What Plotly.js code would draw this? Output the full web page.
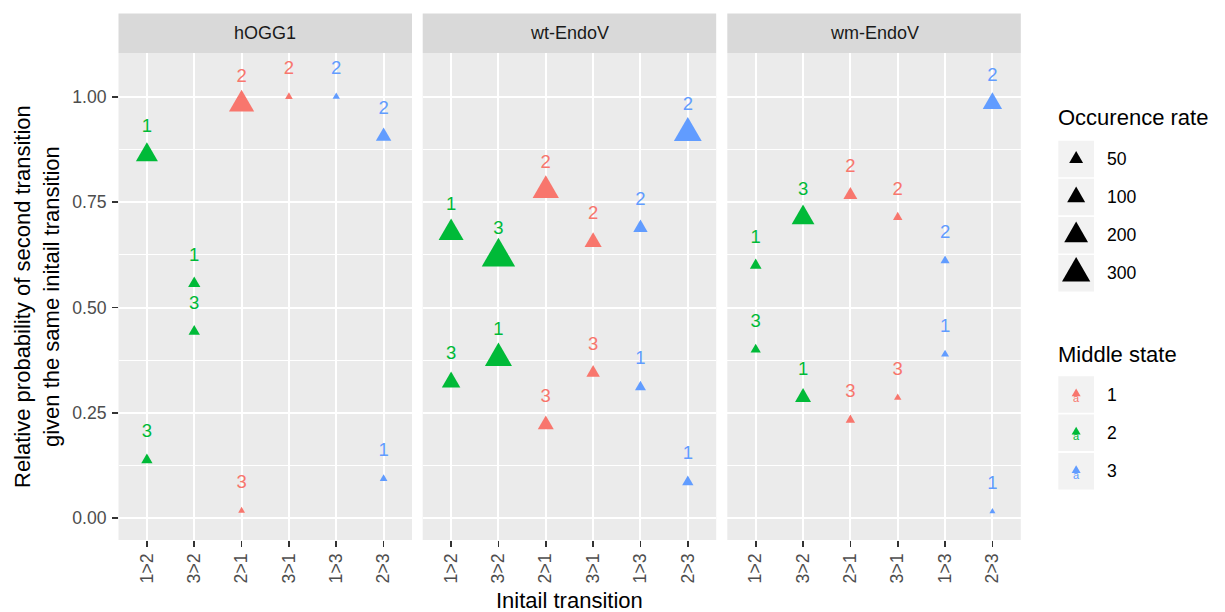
<!DOCTYPE html>
<html><head><meta charset="utf-8">
<script src="https://cdn.plot.ly/plotly-3.0.1.min.js"></script>
<style>html,body{margin:0;padding:0;background:#fff}#chart{width:1225px;height:612px}</style>
</head><body><div id="chart"></div>
<script>
// ---------------- data ----------------
const categories = ['1>2', '3>2', '2>1', '3>1', '1>3', '2>3'];
const facets = ['hOGG1', 'wt-EndoV', 'wm-EndoV'];
const middleStates = ['1', '2', '3'];
const sizeBreaks = [50, 100, 200, 300];

// hOGG1
const hogg1Init  = ['1>2', '1>2', '3>2', '3>2', '2>1', '2>1', '3>1', '1>3', '2>3', '2>3'];
const hogg1Final = ['1', '3', '1', '3', '2', '3', '2', '2', '2', '1'];
const hogg1Prob  = [0.862, 0.138, 0.557, 0.443, 0.982, 0.018, 1.0, 1.0, 0.906, 0.094];
const hogg1Occ   = [165, 27, 35, 28, 230, 4, 7, 6, 67, 7];

// wt-EndoV
const wtInit  = ['1>2', '1>2', '3>2', '3>2', '2>1', '2>1', '3>1', '3>1', '1>3', '1>3', '2>3', '2>3'];
const wtFinal = ['1', '3', '3', '1', '2', '3', '2', '3', '2', '1', '2', '1'];
const wtProb  = [0.677, 0.323, 0.62, 0.38, 0.778, 0.222, 0.655, 0.345, 0.689, 0.311, 0.914, 0.086];
const wtOcc   = [225, 107, 440, 270, 254, 73, 88, 46, 55, 25, 290, 27];

// wm-EndoV
const wmInit  = ['1>2', '1>2', '3>2', '3>2', '2>1', '2>1', '3>1', '3>1', '1>3', '1>3', '2>3', '2>3'];
const wmFinal = ['1', '3', '3', '1', '2', '3', '2', '3', '2', '1', '2', '1'];
const wmProb  = [0.60, 0.40, 0.713, 0.287, 0.767, 0.233, 0.714, 0.286, 0.611, 0.389, 0.984, 0.016];
const wmOcc   = [30, 20, 180, 73, 50, 15, 15, 6, 13, 8, 120, 2];

// ---------------- style ----------------
const W = 1225, H = 612;
const stateColors = ['#F8766D', '#00BA38', '#619CFF'];
const FONT = 'Liberation Sans, Arial, sans-serif';
const labelNudge = 0.065;
function markerSize(n) { return (4 + 1.4 * Math.sqrt(n)) / 1.155; }
function X(p) { return p / W; }
function Y(p) { return 1 - p / H; }

const panelLeft = [118.5, 422.7, 727.3];
const panelWidth = 293.5;
const panelTop = 53, panelBottom = 540, stripTop = 13.5;
const yRange = [-0.0515, 1.1037];

const facetData = [
  {init: hogg1Init, fin: hogg1Final, prob: hogg1Prob, occ: hogg1Occ},
  {init: wtInit, fin: wtFinal, prob: wtProb, occ: wtOcc},
  {init: wmInit, fin: wmFinal, prob: wmProb, occ: wmOcc}
];

const traces = [];
facetData.forEach((d, i) => {
  const xa = i === 0 ? 'x' : 'x' + (i + 1);
  const ya = i === 0 ? 'y' : 'y' + (i + 1);
  const cols = d.init.map(t => stateColors[middleStates.indexOf(t.split('>')[1])]);
  traces.push({
    type: 'scatter', mode: 'markers', xaxis: xa, yaxis: ya,
    x: d.init, y: d.prob, cliponaxis: false, showlegend: false, hoverinfo: 'skip',
    marker: {symbol: 'triangle-up', size: d.occ.map(markerSize), color: cols, opacity: 1, line: {width: 0}}
  });
  traces.push({
    type: 'scatter', mode: 'text', xaxis: xa, yaxis: ya,
    x: d.init, y: d.prob.map(v => v + labelNudge), text: d.fin,
    textposition: 'middle center', cliponaxis: false, showlegend: false, hoverinfo: 'skip',
    textfont: {family: FONT, size: 18.5, color: cols}
  });
});

// ---------------- custom legends ----------------
const keyX0 = 1058.3, keyX1 = 1094, keyH = 36.5;
const keyCX = (keyX0 + keyX1) / 2;
const sizeKeyY = [159, 197, 235.3, 273.3];
const stateKeyY = [394.5, 432.8, 471.2];

traces.push({
  type: 'scatter', mode: 'markers', xaxis: 'x4', yaxis: 'y4', cliponaxis: false,
  x: sizeBreaks.map(() => keyCX), y: sizeKeyY, showlegend: false, hoverinfo: 'skip',
  marker: {symbol: 'triangle-up', size: sizeBreaks.map(markerSize), color: '#000000', opacity: 1, line: {width: 0}}
});
traces.push({
  type: 'scatter', mode: 'markers', xaxis: 'x4', yaxis: 'y4', cliponaxis: false,
  x: middleStates.map(() => keyCX), y: stateKeyY.map(v => v - 0.8), showlegend: false, hoverinfo: 'skip',
  marker: {symbol: 'triangle-up', size: 7.8, color: stateColors, opacity: 1, line: {width: 0}}
});

const shapes = [];
const annotations = [];
const layout = {
  width: W, height: H,
  margin: {l: 0, r: 0, t: 0, b: 0, pad: 0},
  paper_bgcolor: '#FFFFFF', plot_bgcolor: 'rgba(0,0,0,0)',
  font: {family: FONT, color: '#000000'},
  showlegend: false, shapes: shapes, annotations: annotations
};

for (let i = 0; i < 3; i++) {
  const l = panelLeft[i], r = l + panelWidth;
  const sx = i === 0 ? '' : String(i + 1);
  layout['xaxis' + sx] = {
    domain: [X(l), X(r)], anchor: 'y' + sx, type: 'category',
    categoryorder: 'array', categoryarray: categories, range: [-0.6, 5.6],
    showgrid: true, gridcolor: '#FFFFFF', gridwidth: 2, zeroline: false, showline: false,
    ticks: 'outside', ticklen: 5.5, tickwidth: 1.6, tickcolor: '#333333',
    tickangle: -90, tickfont: {family: FONT, size: 17.6, color: '#4D4D4D'}, fixedrange: true
  };
  layout['yaxis' + sx] = {
    domain: [Y(panelBottom), Y(panelTop)], anchor: 'x' + sx, range: yRange,
    tickmode: 'array', tickvals: [0, 0.25, 0.5, 0.75, 1],
    ticktext: ['0.00', '0.25', '0.50', '0.75', '1.00'],
    showgrid: true, gridcolor: '#FFFFFF', gridwidth: 2, zeroline: false, showline: false,
    minor: {tickmode: 'array', tickvals: [0.125, 0.375, 0.625, 0.875], showgrid: true, gridcolor: '#FFFFFF', gridwidth: 1.1, ticks: ''},
    ticks: i === 0 ? 'outside' : '', ticklen: 5.5, tickwidth: 1.6, tickcolor: '#333333',
    showticklabels: i === 0, ticklabelstandoff: 2,
    tickfont: {family: FONT, size: 17.6, color: '#4D4D4D'}, fixedrange: true
  };
  shapes.push({type: 'rect', xref: 'paper', yref: 'paper', layer: 'below',
    x0: X(l), x1: X(r), y0: Y(panelBottom), y1: Y(panelTop), fillcolor: '#EBEBEB', line: {width: 0}});
  shapes.push({type: 'rect', xref: 'paper', yref: 'paper', layer: 'below',
    x0: X(l), x1: X(r), y0: Y(panelTop), y1: Y(stripTop), fillcolor: '#D9D9D9', line: {width: 0}});
  annotations.push({xref: 'paper', yref: 'paper', x: X((l + r) / 2), y: Y((panelTop + stripTop) / 2),
    xanchor: 'center', yanchor: 'middle', showarrow: false, text: facets[i],
    font: {family: FONT, size: 18, color: '#1A1A1A'}});
}
layout.xaxis4 = {domain: [0, 1], range: [0, W], visible: false, anchor: 'y4', fixedrange: true};
layout.yaxis4 = {domain: [0, 1], range: [H, 0], visible: false, anchor: 'x4', fixedrange: true};

annotations.push({xref: 'paper', yref: 'paper', x: X((panelLeft[0] + panelLeft[2] + panelWidth) / 2), y: Y(600.5),
  xanchor: 'center', yanchor: 'middle', showarrow: false, text: 'Initail transition',
  font: {family: FONT, size: 22, color: '#000000'}});
annotations.push({xref: 'paper', yref: 'paper', x: X(36.5), y: Y((panelTop + panelBottom) / 2),
  xanchor: 'center', yanchor: 'middle', showarrow: false, textangle: -90,
  text: 'Relative probability of second transition<br>given the same initail transition',
  font: {family: FONT, size: 22, color: '#000000'}});

annotations.push({xref: 'paper', yref: 'paper', x: X(1055.5), y: Y(118), xanchor: 'left', yanchor: 'middle',
  showarrow: false, text: 'Occurence rate', font: {family: FONT, size: 22, color: '#000000'}});
annotations.push({xref: 'paper', yref: 'paper', x: X(1055.5), y: Y(354), xanchor: 'left', yanchor: 'middle',
  showarrow: false, text: 'Middle state', font: {family: FONT, size: 22, color: '#000000'}});

sizeBreaks.forEach((b, k) => {
  shapes.push({type: 'rect', xref: 'paper', yref: 'paper', layer: 'below',
    x0: X(keyX0), x1: X(keyX1), y0: Y(sizeKeyY[k] + keyH / 2), y1: Y(sizeKeyY[k] - keyH / 2),
    fillcolor: '#F2F2F2', line: {width: 0}});
  annotations.push({xref: 'paper', yref: 'paper', x: X(1105), y: Y(sizeKeyY[k]), xanchor: 'left', yanchor: 'middle',
    showarrow: false, text: String(b), font: {family: FONT, size: 17.6, color: '#000000'}});
});
middleStates.forEach((s, k) => {
  shapes.push({type: 'rect', xref: 'paper', yref: 'paper', layer: 'below',
    x0: X(keyX0), x1: X(keyX1), y0: Y(stateKeyY[k] + keyH / 2), y1: Y(stateKeyY[k] - keyH / 2),
    fillcolor: '#F2F2F2', line: {width: 0}});
  annotations.push({xref: 'paper', yref: 'paper', x: X(keyCX), y: Y(stateKeyY[k] + 3.5), xanchor: 'center', yanchor: 'middle',
    showarrow: false, text: 'a', font: {family: FONT, size: 11, color: stateColors[k]}});
  annotations.push({xref: 'paper', yref: 'paper', x: X(1105), y: Y(stateKeyY[k]), xanchor: 'left', yanchor: 'middle',
    showarrow: false, text: s, font: {family: FONT, size: 17.6, color: '#000000'}});
});

// ggplot's filled triangle (shape 17) is equilateral; reshape Plotly's flatter
// triangle-up glyph keeping its width and its centroid at the data position.
function equilateralTriangles(gd) {
  gd.querySelectorAll('.scatterlayer path.point').forEach(p => {
    const d = p.getAttribute('d') || '';
    const m = d.match(/^M-?([\d.]+),/);
    if (!m) return;
    const half = parseFloat(m[1]);
    const h = half * Math.sqrt(3);
    p.setAttribute('d', 'M-' + half + ',' + (h / 3).toFixed(2) + 'H' + half + 'L0,-' + (2 * h / 3).toFixed(2) + 'Z');
  });
}

Plotly.newPlot('chart', traces, layout, {staticPlot: true, displayModeBar: false})
  .then(gd => equilateralTriangles(gd));
</script>
</body></html>
